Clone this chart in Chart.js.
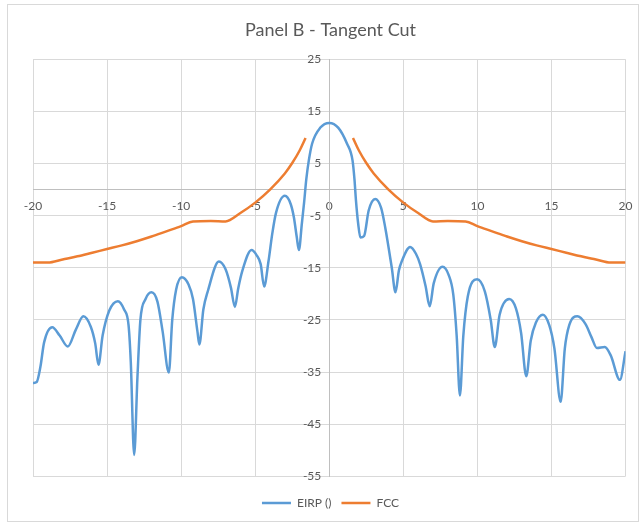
<!DOCTYPE html>
<html>
<head>
<meta charset="utf-8">
<script src="https://cdn.jsdelivr.net/npm/chart.js@4.4.1/dist/chart.umd.min.js"></script>
<style>
  body { margin: 0; background: #fff; }
  #wrap { position: absolute; left: 0; top: 0; width: 642px; height: 523px; }
  #frame { position: absolute; left: 7px; top: 4px; width: 632px; height: 518px; border: 1px solid #d9d9d9; box-sizing: border-box; pointer-events: none; }
</style>
</head>
<body>
<div id="wrap"><canvas id="chart"></canvas></div>
<div id="frame"></div>
<script>
// angle (deg) and level values
var eirpX = [-20, -19.75, -19.5, -19.25, -18.7, -18.2, -17.65, -17.1, -16.6, -16.1, -15.8, -15.58, -15.3, -14.85, -14.27,
  -13.85, -13.55, -13.4, -13.17, -12.95, -12.75, -12.4, -12.0, -11.6, -11.25, -10.83, -10.6, -10.34, -9.95, -9.5, -9.2,
  -8.9, -8.77, -8.5, -8.2, -7.45, -7.0, -6.64, -6.37, -6.15, -5.86, -5.25, -4.9, -4.63, -4.4, -4.1, -3.85, -3.6, -3.0,
  -2.6, -2.39, -2.2, -2.05, -1.85, -1.7, -1.55, -1.38, -1.16, -0.6, 0, 0.6, 1.2, 1.57, 1.7, 1.8, 1.95, 2.1, 2.35, 2.66,
  3.1, 3.5, 3.78, 4.22, 4.47, 4.7, 4.9, 5.46, 5.85, 6.13, 6.5, 6.78, 7.05, 7.65, 8.05, 8.37, 8.6, 8.82, 9.05, 9.35, 9.98,
  10.5, 10.9, 11.17, 11.5, 12.15, 12.6, 12.95, 13.3, 13.6, 13.95, 14.42, 14.85, 15.2, 15.62, 15.9, 16.2, 16.75, 17.3,
  17.7, 18.07, 18.6, 19.0, 19.62, 20];
var eirpY = [-37.1, -36.9, -34.0, -29.3, -26.4, -28.0, -30.1, -26.8, -24.3, -26.3, -29.5, -33.6, -28.0, -23.2, -21.4,
  -23.0, -26.0, -33.0, -50.9, -36.0, -25.0, -21.0, -19.7, -21.5, -27.2, -35.1, -25.0, -19.2, -16.8, -18.2, -21.0,
  -27.2, -29.7, -23.0, -19.5, -13.8, -15.3, -18.8, -22.5, -19.0, -15.5, -11.6, -12.6, -14.3, -18.6, -13.7, -8.5, -4.5, -1.2,
  -2.8, -5.3, -9.0, -11.6, -6.5, -2.5, 2.0, 5.6, 8.8, 11.9, 12.8, 11.9, 8.8, 5.6, 2.0, -2.0, -6.5, -9.2, -8.9, -4.0,
  -1.8, -3.5, -7.3, -15.0, -19.7, -15.5, -13.7, -11.0, -12.3, -14.3, -18.5, -22.4, -18.0, -14.8, -16.3, -20.1, -28.0, -39.5, -28.0, -20.5, -17.2,
  -19.5, -25.0, -30.2, -24.0, -21.0, -22.8, -27.5, -35.8, -29.0, -25.5, -24.0, -26.0, -30.5, -40.7, -30.5, -26.0, -24.3, -25.8,
  -28.3, -30.4, -30.2, -31.8, -36.5, -31.0];

var fccX = [-20, -19, -18, -17, -16, -15, -14, -13, -12, -11, -10, -9.2, -8, -7, -6, -5, -4, -3, -2.5, -2, -1.6,
  0, 1.6, 2, 2.5, 3, 4, 5, 6, 7, 8, 9.2, 10, 11, 12, 13, 14, 15, 16, 17, 18, 19, 20];
var fccY = [-14, -14, -13.4, -12.8, -12.1, -11.4, -10.7, -9.9, -9.0, -8.0, -7.0, -6.1, -6.0, -6.1, -4.5, -2.5, 0, 3.1, 5.1, 7.5, 9.9,
  null, 9.9, 7.5, 5.1, 3.1, 0, -2.5, -4.5, -6.1, -6.0, -6.1, -7.0, -8.0, -9.0, -9.9, -10.7, -11.4, -12.1, -12.8, -13.4, -14, -14];

var xTicks = { min: -20, max: 20, step: 5 };
var yTicks = { min: -55, max: 25, step: 10 };

function toPoints(xs, ys) {
  var pts = [];
  for (var i = 0; i < xs.length; i++) {
    pts.push({ x: xs[i], y: ys[i] });
  }
  return pts;
}

var font = { family: 'Lato, "Open Sans", sans-serif', size: 12 };

// the centre y axis puts its labels right on the axis line, nudge them left a bit
var yLabelGap = {
  id: 'yLabelGap',
  beforeDraw: function (chart) {
    var items = chart.scales.y.getLabelItems(chart.chartArea);
    items.forEach(function (it) {
      if (!it._moved) {
        it.options.translation[0] -= 8;
        it._moved = true;
      }
    });
  }
};

var chart = new Chart(document.getElementById('chart'), {
  type: 'line',
  data: {
    datasets: [
      {
        label: 'EIRP ()',
        data: toPoints(eirpX, eirpY),
        borderColor: '#5B9BD5',
        backgroundColor: '#5B9BD5',
        borderWidth: 2.5,
        pointRadius: 0,
        cubicInterpolationMode: 'monotone'
      },
      {
        label: 'FCC',
        data: toPoints(fccX, fccY),
        borderColor: '#ED7D31',
        backgroundColor: '#ED7D31',
        borderWidth: 2.5,
        pointRadius: 0,
        cubicInterpolationMode: 'monotone',
        spanGaps: false
      }
    ]
  },
  options: {
    responsive: true,
    maintainAspectRatio: false,
    animation: false,
    layout: { padding: { left: 33, right: 14, top: 4, bottom: 3.9 } },
    plugins: {
      title: {
        display: true,
        text: 'Panel B - Tangent Cut',
        color: '#595959',
        font: { family: font.family, size: 18, weight: 'normal' },
        padding: { top: 15.2, bottom: 18.5 }
      },
      legend: {
        position: 'bottom',
        title: { display: true, text: ' ', font: { size: 9 }, padding: 0 },
        labels: {
          color: '#595959',
          font: font,
          boxWidth: 29,
          boxHeight: 0,
          padding: 10
        }
      },
      tooltip: { enabled: false }
    },
    scales: {
      x: {
        type: 'linear',
        position: { y: 0 },
        min: xTicks.min,
        max: xTicks.max,
        ticks: { stepSize: xTicks.step, color: '#595959', font: font, padding: 9.5 },
        grid: { color: '#d9d9d9', drawTicks: false },
        border: { color: '#bfbfbf' }
      },
      y: {
        type: 'linear',
        position: { x: 0 },
        min: yTicks.min,
        max: yTicks.max,
        ticks: { stepSize: yTicks.step, color: '#595959', font: font },
        grid: { color: '#d9d9d9', drawTicks: false },
        border: { color: '#bfbfbf' }
      }
    }
  },
  plugins: [yLabelGap]
});
</script>
</body>
</html>
